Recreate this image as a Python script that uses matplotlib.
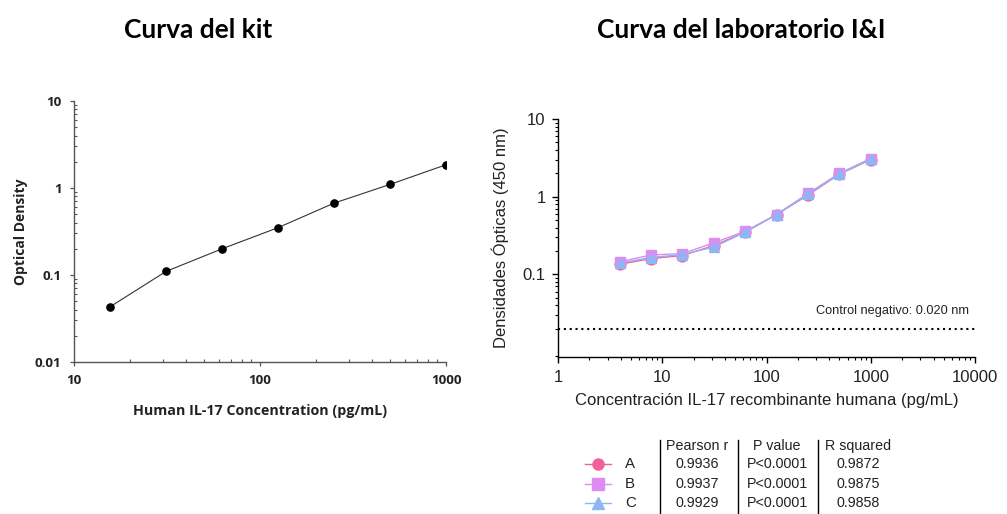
import matplotlib
matplotlib.use("Agg")
import matplotlib.pyplot as plt
from matplotlib.ticker import LogLocator, NullFormatter, FixedLocator, FixedFormatter
from matplotlib.lines import Line2D

# ---------------- data ----------------
kit_conc = [15.6, 31.25, 62.5, 125, 250, 500, 1000]
kit_od = [0.043, 0.11, 0.20, 0.35, 0.67, 1.10, 1.85]

lab_conc = [3.9, 7.8, 15.6, 31.25, 62.5, 125, 250, 500, 1000]
lab_A = [0.135, 0.160, 0.175, 0.235, 0.350, 0.590, 1.05, 1.95, 3.00]
lab_B = [0.145, 0.178, 0.185, 0.255, 0.360, 0.590, 1.10, 2.00, 3.10]
lab_C = [0.140, 0.165, 0.180, 0.225, 0.350, 0.590, 1.08, 1.95, 3.05]
control_neg = 0.020

series_names = ["A", "B", "C"]
pearson_r = ["0.9936", "0.9937", "0.9929"]
p_values = ["P<0.0001", "P<0.0001", "P<0.0001"]
r_squared = ["0.9872", "0.9875", "0.9858"]
table_headers = ["Pearson r", "P value", "R squared"]

kit_xticks = [10, 100, 1000]
kit_yticks = [0.01, 0.1, 1, 10]
lab_xticks = [1, 10, 100, 1000, 10000]
lab_yticks = [0.1, 1, 10]

colors = ["#F2609A", "#DC8CF2", "#8CB8F2"]
markers = ["o", "s", "^"]

W, H = 1007, 514
fig = plt.figure(figsize=(W / 100, H / 100), dpi=100)


def px_axes(x0, y0, x1, y1):
    return fig.add_axes([x0 / W, 1 - y1 / H, (x1 - x0) / W, (y1 - y0) / H])


# ---------------- left chart ----------------
bold_font = "Open Sans"
ax1 = px_axes(74, 101, 446, 362)
ax1.set_xscale("log")
ax1.set_yscale("log")
ax1.plot(kit_conc, kit_od, color="#333333", lw=0.8, marker="o", ms=5.2,
         mfc="black", mec="black")
ax1.set_xlim(10, 1000)
ax1.set_ylim(0.01, 10)
for s in ["top", "right"]:
    ax1.spines[s].set_visible(False)
for s in ["left", "bottom"]:
    ax1.spines[s].set_color("#555555")
    ax1.spines[s].set_linewidth(1.0)
ax1.xaxis.set_major_locator(FixedLocator(kit_xticks))
ax1.xaxis.set_major_formatter(FixedFormatter([str(v) for v in kit_xticks]))
ax1.yaxis.set_major_locator(FixedLocator(kit_yticks))
ax1.yaxis.set_major_formatter(FixedFormatter([f"{v:g}" for v in kit_yticks]))
ax1.xaxis.set_minor_locator(LogLocator(base=10, subs=range(2, 10)))
ax1.yaxis.set_minor_locator(LogLocator(base=10, subs=range(2, 10)))
ax1.xaxis.set_minor_formatter(NullFormatter())
ax1.yaxis.set_minor_formatter(NullFormatter())
ax1.tick_params(which="major", direction="out", length=3, width=0.9,
                color="#555555", labelsize=9.6, pad=6)
ax1.tick_params(which="minor", direction="in", length=2.5, width=0.8,
                color="#555555")
for lab in ax1.get_xticklabels() + ax1.get_yticklabels():
    lab.set_fontfamily(bold_font)
    lab.set_fontweight("bold")
    lab.set_color("#222222")
ax1.set_xlabel("Human IL-17 Concentration (pg/mL)", fontfamily=bold_font,
               fontweight="bold", fontsize=10.3, color="#222222", labelpad=12)
ax1.set_ylabel("Optical Density", fontfamily=bold_font, fontweight="bold",
               fontsize=10, color="#222222", labelpad=5)

# ---------------- right chart ----------------
arial = "Liberation Sans"
ax2 = px_axes(558, 119, 975, 357)
ax2.set_xscale("log")
ax2.set_yscale("log")
for vals, c, m in zip([lab_A, lab_B, lab_C], colors, markers):
    ax2.plot(lab_conc, vals, color=c, lw=1.0, marker=m, ms=7.8, mfc=c, mec=c)
ax2.axhline(control_neg, color="black", lw=1.5, ls=(0, (1, 1.8)))
ax2.text(0.985, 0.018 * 1.55, "Control negativo: 0.020 nm", transform=ax2.get_yaxis_transform(),
         ha="right", va="bottom", fontsize=9.2, fontfamily=arial, color="#222222")
ax2.set_xlim(1, 10000)
ax2.set_ylim(0.00865, 10)
for s in ["top", "right"]:
    ax2.spines[s].set_visible(False)
for s in ["left", "bottom"]:
    ax2.spines[s].set_color("black")
    ax2.spines[s].set_linewidth(1.0)
ax2.xaxis.set_major_locator(FixedLocator(lab_xticks))
ax2.xaxis.set_major_formatter(FixedFormatter([str(v) for v in lab_xticks]))
ax2.yaxis.set_major_locator(FixedLocator(lab_yticks))
ax2.yaxis.set_major_formatter(FixedFormatter([f"{v:g}" for v in lab_yticks]))
ax2.xaxis.set_minor_locator(LogLocator(base=10, subs=range(2, 10)))
ax2.yaxis.set_minor_locator(LogLocator(base=10, subs=range(2, 10)))
ax2.xaxis.set_minor_formatter(NullFormatter())
ax2.yaxis.set_minor_formatter(NullFormatter())
ax2.tick_params(which="major", direction="out", length=4, width=1.0,
                labelsize=12, pad=5)
ax2.tick_params(which="minor", direction="out", length=2.5, width=0.8)
for lab in ax2.get_xticklabels() + ax2.get_yticklabels():
    lab.set_fontfamily(arial)
    lab.set_color("#222222")
ax2.set_xlabel("Concentración IL-17 recombinante humana (pg/mL)", fontfamily=arial,
               fontsize=12, color="#222222", labelpad=6)
ax2.set_ylabel("Densidades Ópticas (450 nm)", fontfamily=arial, fontsize=12,
               color="#222222", labelpad=10)

# ---------------- titles ----------------
fig.text(198 / W, 1 - 30 / H, "Curva del kit", ha="center", va="center",
         fontsize=19, fontweight="bold", fontfamily="Lato")
fig.text(741 / W, 1 - 30 / H, "Curva del laboratorio I&I", ha="center", va="center",
         fontsize=19, fontweight="bold", fontfamily="Lato")

# ---------------- legend table ----------------
row_y = [464, 484, 503]
header_y = 446
col_x = [697, 777, 858]
sep_x = [660, 738, 818]
tfs = 10.3
for hx, htxt in zip(col_x, table_headers):
    fig.text(hx / W, 1 - header_y / H, htxt, ha="center", va="center",
             fontsize=tfs, fontfamily=arial, color="#222222")
for sx in sep_x:
    fig.add_artist(Line2D([sx / W, sx / W], [1 - 440 / H, 1 - 514 / H],
                          color="black", lw=1.0))
for i, name in enumerate(series_names):
    y = 1 - row_y[i] / H
    fig.add_artist(Line2D([585 / W, 611 / W], [y, y], color=colors[i], lw=1.0))
    fig.add_artist(Line2D([598 / W], [y], color=colors[i], marker=markers[i],
                          ms=8, mfc=colors[i], mec=colors[i], lw=0))
    fig.text(625 / W, y, name, ha="left", va="center", fontsize=tfs + 0.5,
             fontfamily=arial, color="#222222")
    fig.text(col_x[0] / W, y, pearson_r[i], ha="center", va="center",
             fontsize=tfs, fontfamily=arial, color="#222222")
    fig.text(col_x[1] / W, y, p_values[i], ha="center", va="center",
             fontsize=tfs, fontfamily=arial, color="#222222")
    fig.text(col_x[2] / W, y, r_squared[i], ha="center", va="center",
             fontsize=tfs, fontfamily=arial, color="#222222")

fig.savefig("out.png", dpi=100)
